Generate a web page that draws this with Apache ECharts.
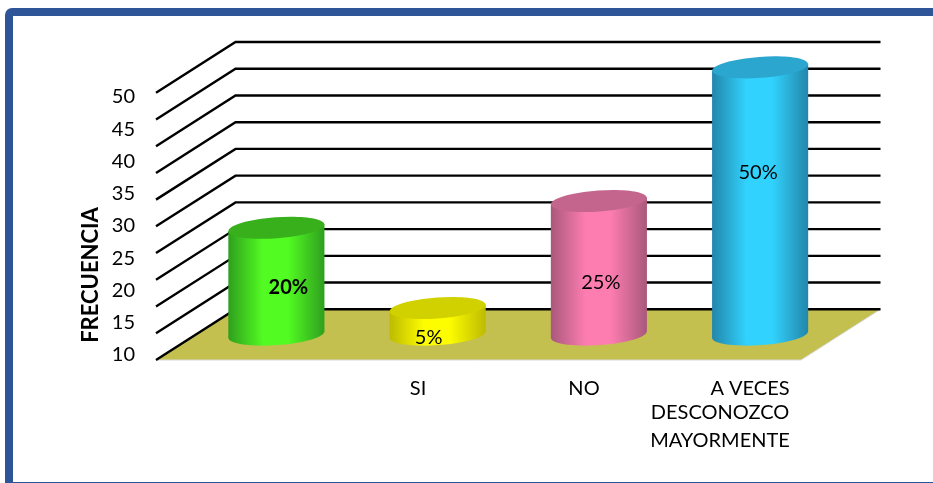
<!DOCTYPE html>
<html>
<head>
<meta charset="utf-8">
<style>
html, body { margin: 0; padding: 0; background: #fff; }
#chart { width: 933px; height: 483px; }
</style>
<script src="https://cdn.jsdelivr.net/npm/echarts@6/dist/echarts.min.js"></script>
</head>
<body>
<div id="chart"></div>
<script>
// chart data
var yLabels = [10, 15, 20, 25, 30, 35, 40, 45, 50];
var wallTicks = [0, 5, 10, 15, 20, 25, 30, 35, 40, 45, 50];
var barValues = [20, 5, 25, 50];
var barCategories = ['A', 'B', 'C', 'D'];
var axisLabels = ['', 'SI', 'NO', 'A VECES'];
var extraLabels = ['DESCONOZCO', 'MAYORMENTE'];
var axisName = 'FRECUENCIA';

// look of the 3d box and the cylinders
var FONT = 'Lato, "Open Sans", sans-serif';
var depthX = 79.5;
var depthY = -50.7;
var barColors = [
    { edge: '#2f9f1e', mid: '#52fb22', top: '#38b01c' },
    { edge: '#bdbb00', mid: '#fdfd00', top: '#d2d100' },
    { edge: '#a9587c', mid: '#fd7db1', top: '#c4658e' },
    { edge: '#2386ab', mid: '#31d3fe', top: '#2aa6cf' }
];
var labelNudge = [[12, 0], [-9, 0], [2, 0], [-2, 0]];
var labelY = [288, 338, 283, 173];

function renderFloor(params, api) {
    var box = params.coordSys;
    var y = api.coord([0, api.value(1)])[1];
    return {
        type: 'polygon',
        shape: {
            points: [
                [box.x, y],
                [box.x + depthX, y + depthY],
                [box.x + box.width + depthX, y + depthY],
                [box.x + box.width, y]
            ]
        },
        style: { fill: '#c4c04f', stroke: '#d9d9d9', lineWidth: 1 }
    };
}

function renderWallLine(params, api) {
    var box = params.coordSys;
    var y = api.coord([0, api.value(1)])[1];
    return {
        type: 'polyline',
        shape: {
            points: [
                [box.x, y],
                [box.x + depthX, y + depthY],
                [box.x + box.width + depthX, y + depthY]
            ]
        },
        style: { fill: null, stroke: '#000', lineWidth: 2.4 }
    };
}

function renderBar(params, api) {
    var i = params.dataIndex;
    var top = api.coord([api.value(0), api.value(1)]);
    var base = api.coord([api.value(0), 0]);
    var cx = top[0] + depthX / 2;
    var topY = top[1] + depthY / 2;
    var baseY = base[1] + depthY / 2;
    var r = api.size([1, 0])[0] * 0.298;
    var ry = 10.5;
    var tilt = 3.5;
    var angle = 0.072;
    var c = barColors[i];
    var side = new echarts.graphic.LinearGradient(0, 0, 1, 0, [
        { offset: 0, color: c.edge },
        { offset: 0.36, color: c.mid },
        { offset: 0.62, color: c.mid },
        { offset: 1, color: c.edge }
    ]);
    return {
        type: 'group',
        children: [
            {
                type: 'ellipse',
                shape: { cx: 0, cy: 0, rx: r, ry: ry },
                x: cx, y: baseY, rotation: angle,
                style: { fill: side }
            },
            {
                type: 'polygon',
                shape: {
                    points: [
                        [cx - r, topY + tilt],
                        [cx + r, topY - tilt],
                        [cx + r, baseY - tilt],
                        [cx - r, baseY + tilt]
                    ]
                },
                style: { fill: side }
            },
            {
                type: 'ellipse',
                shape: { cx: 0, cy: 0, rx: r, ry: ry },
                x: cx, y: topY, rotation: angle,
                style: { fill: c.top }
            },
            {
                type: 'text',
                style: {
                    x: cx + labelNudge[i][0],
                    y: labelY[i],
                    text: api.value(1) + '%',
                    align: 'center',
                    verticalAlign: 'middle',
                    fill: '#000',
                    font: (i === 0 ? 'bold ' : '') + '20px ' + FONT
                }
            }
        ]
    };
}

var chart = echarts.init(document.getElementById('chart'), null, { renderer: 'canvas' });

chart.setOption({
    animation: false,
    backgroundColor: '#fff',
    grid: [
        { left: 169, width: 664, top: 97, height: 258 },
        { left: 156, width: 645, top: 92.7, height: 267.3 }
    ],
    xAxis: [
        {
            gridIndex: 0,
            type: 'category',
            data: axisLabels,
            axisLine: { show: false },
            axisTick: { show: false },
            axisLabel: { color: '#000', fontFamily: FONT, fontSize: 20, margin: 24, interval: 0 }
        },
        {
            gridIndex: 1,
            type: 'category',
            data: barCategories,
            show: false
        }
    ],
    yAxis: [
        {
            gridIndex: 0,
            type: 'value',
            min: yLabels[0],
            max: yLabels[yLabels.length - 1],
            interval: yLabels[1] - yLabels[0],
            axisLine: { show: false },
            axisTick: { show: false },
            splitLine: { show: false },
            axisLabel: { color: '#000', fontFamily: FONT, fontSize: 20, margin: 34 }
        },
        {
            gridIndex: 1,
            type: 'value',
            min: wallTicks[0],
            max: wallTicks[wallTicks.length - 1],
            interval: wallTicks[1] - wallTicks[0],
            show: false
        }
    ],
    series: [
        {
            type: 'custom',
            xAxisIndex: 1,
            yAxisIndex: 1,
            z: 1,
            silent: true,
            clip: false,
            renderItem: renderFloor,
            data: [[0, wallTicks[0]]]
        },
        {
            type: 'custom',
            xAxisIndex: 1,
            yAxisIndex: 1,
            z: 2,
            silent: true,
            clip: false,
            renderItem: renderWallLine,
            data: wallTicks.map(function (v) { return [0, v]; })
        },
        {
            type: 'custom',
            xAxisIndex: 1,
            yAxisIndex: 1,
            z: 3,
            silent: true,
            clip: false,
            renderItem: renderBar,
            data: barValues.map(function (v, i) { return [i, v]; })
        }
    ],
    graphic: [
        {
            // blue frame, runs off the right and bottom of the picture
            type: 'rect',
            silent: true,
            shape: { x: 9, y: 12, width: 1000, height: 474, r: 3 },
            style: { fill: null, stroke: '#2d5597', lineWidth: 8 }
        },
        {
            type: 'text',
            silent: true,
            x: 91,
            y: 275,
            rotation: Math.PI / 2,
            style: {
                text: axisName,
                align: 'center',
                verticalAlign: 'middle',
                fill: '#000',
                font: 'bold 22px ' + FONT
            }
        },
        {
            type: 'text',
            silent: true,
            x: 720,
            y: 413,
            style: { text: extraLabels[0], align: 'center', verticalAlign: 'middle', fill: '#000', font: '20px ' + FONT }
        },
        {
            type: 'text',
            silent: true,
            x: 720,
            y: 441,
            style: { text: extraLabels[1], align: 'center', verticalAlign: 'middle', fill: '#000', font: '20px ' + FONT }
        }
    ]
});
</script>
</body>
</html>
